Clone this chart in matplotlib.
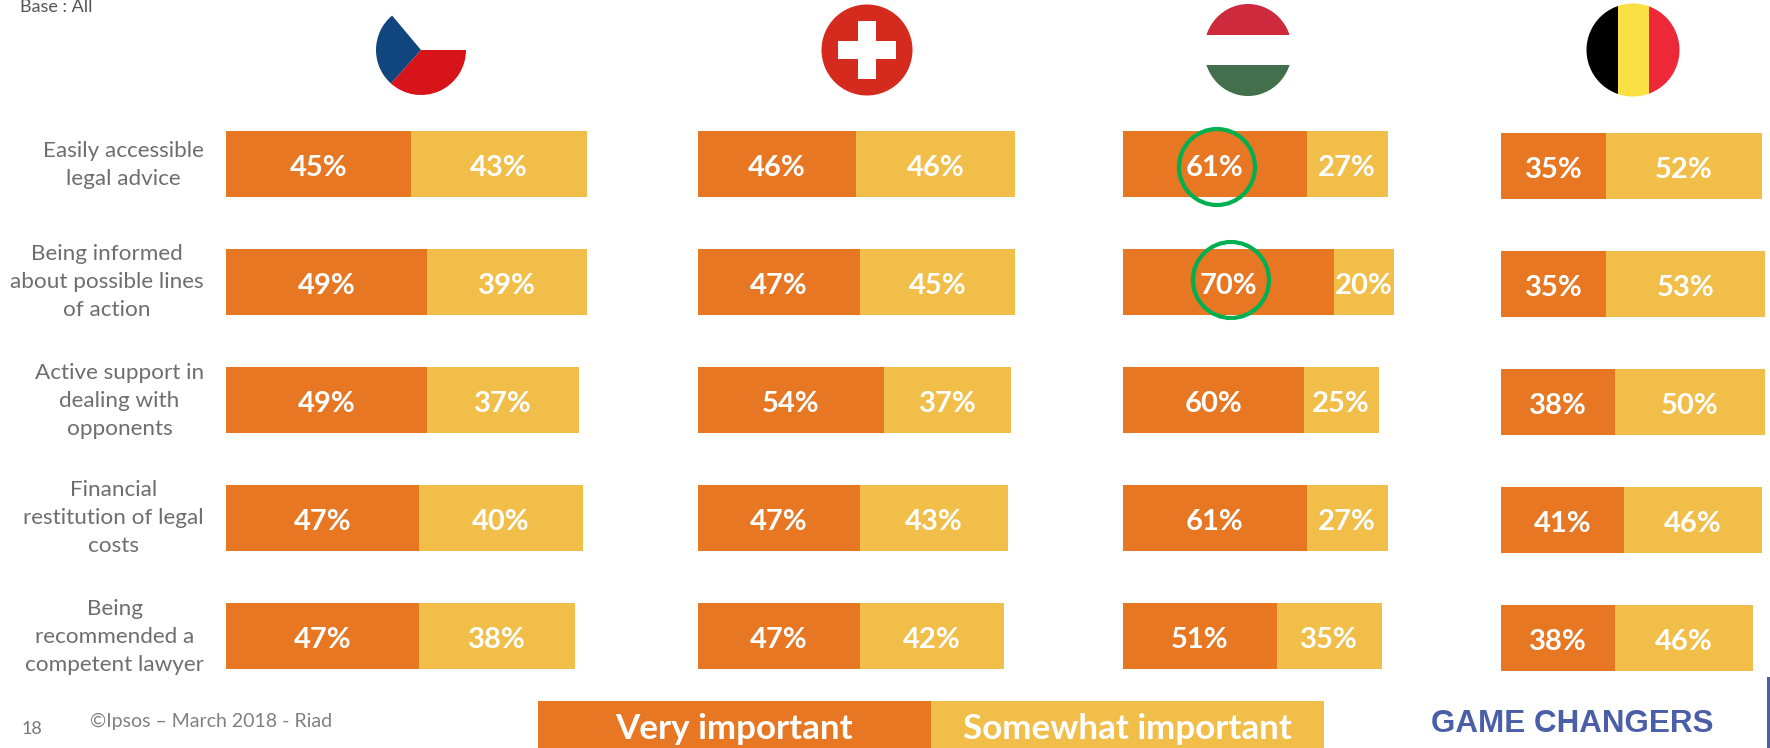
import matplotlib
matplotlib.use("Agg")
import matplotlib.pyplot as plt
from matplotlib.patches import Rectangle, Ellipse, Wedge

categories = ["Easily accessible\nlegal advice",
              "Being informed\nabout possible lines\nof action",
              "Active support in\ndealing with\nopponents",
              "Financial\nrestitution of legal\ncosts",
              "Being\nrecommended a\ncompetent lawyer"]
very_cz = [45, 49, 49, 47, 47]
some_cz = [43, 39, 37, 40, 38]
very_ch = [46, 47, 54, 47, 47]
some_ch = [46, 45, 37, 43, 42]
very_hu = [61, 70, 60, 61, 51]
some_hu = [27, 20, 25, 27, 35]
very_be = [35, 35, 38, 41, 38]
some_be = [52, 53, 50, 46, 46]
series_names = ["Very important", "Somewhat important"]

ORANGE = "#E77722"
YELLOW = "#F1BE49"
GREY = "#6E6E6E"
W, H = 1770, 748
FONT = "Lato"

fig = plt.figure(figsize=(W / 100, H / 100), dpi=100, facecolor="white")

# overlay in pixel coordinates for flags, legend and slide furniture
ov = fig.add_axes([0, 0, 1, 1], zorder=5)
ov.set_xlim(0, W)
ov.set_ylim(H, 0)
ov.axis("off")
ov.patch.set_alpha(0)


def panel(left, px_per_pct, top, very, some):
    xmax = max(v + s for v, s in zip(very, some)) + 0.5
    row_step = 118
    width = xmax * px_per_pct
    height = row_step * 5
    ax = fig.add_axes([left / W, 1 - (top + height) / H, width / W, height / H])
    rows = list(range(len(very)))
    ax.barh(rows, very, height=0.555, color=ORANGE, linewidth=0)
    ax.barh(rows, some, left=very, height=0.555, color=YELLOW, linewidth=0)
    ax.set_xlim(0, xmax)
    ax.set_ylim(4.5, -0.5)
    ax.axis("off")
    for r, v, s in zip(rows, very, some):
        ax.text(v / 2, r + 0.03, f"{v}%", color="white", fontsize=21, fontweight="bold",
                family=FONT, ha="center", va="center")
        ax.text(v + s / 2, r + 0.03, f"{s}%", color="white", fontsize=21, fontweight="bold",
                family=FONT, ha="center", va="center")
    return ax


panel(226, 4.10, 105, very_cz, some_cz)
panel(698, 3.05 * 1.1288, 105, very_ch, some_ch)
panel(1123, 3.01, 105, very_hu, some_hu)
panel(1501, 3.00, 107, very_be, some_be)

# row labels
label_y = [165, 282, 401, 518, 637]
for y, c in zip(label_y, categories):
    ov.text(204, y, c, color=GREY, fontsize=16.2, family=FONT, ha="right", va="center",
            multialignment="center", linespacing=1.52)

# green highlight circles
for cx, cy in [(1217, 167), (1231, 280)]:
    ov.add_patch(Ellipse((cx, cy), 76, 76, fill=False, edgecolor="#00B050", linewidth=3))

# Czech flag (the y axis of this overlay points down, so angles run clockwise)
ov.add_patch(Wedge((421, 50), 45, 0, 132, facecolor="#D7141A", linewidth=0))
ov.add_patch(Wedge((421, 50), 45, 132, 230, facecolor="#11457E", linewidth=0))

# Swiss flag
ov.add_patch(Ellipse((867, 50), 91, 91, facecolor="#D52B1E", linewidth=0))
ov.add_patch(Rectangle((858, 21), 18, 58, facecolor="white", linewidth=0))
ov.add_patch(Rectangle((838, 41), 58, 18, facecolor="white", linewidth=0))

# Hungarian flag
hu_clip = Ellipse((1248, 50), 88, 92, transform=ov.transData)
for y0, y1, col in [(4, 35, "#CD2A3E"), (35, 65, "white"), (65, 97, "#436F4D")]:
    rect = Rectangle((1200, y0), 96, y1 - y0, facecolor=col, linewidth=0)
    ov.add_patch(rect)
    rect.set_clip_path(hu_clip)

# Belgian flag
be_clip = Ellipse((1633, 50), 93, 93, transform=ov.transData)
for x0, x1, col in [(1585, 1618, "black"), (1618, 1649, "#FAE042"), (1649, 1681, "#ED2939")]:
    rect = Rectangle((x0, 0), x1 - x0, 100, facecolor=col, linewidth=0)
    ov.add_patch(rect)
    rect.set_clip_path(be_clip)

# legend band
ov.add_patch(Rectangle((538, 701), 393, 47, facecolor=ORANGE, linewidth=0))
ov.add_patch(Rectangle((931, 701), 393, 47, facecolor=YELLOW, linewidth=0))
ov.text(734, 729, series_names[0], color="white", fontsize=25.2, fontweight="bold",
        family=FONT, ha="center", va="center")
ov.text(1127, 729, series_names[1], color="white", fontsize=25.2, fontweight="bold",
        family=FONT, ha="center", va="center")

# slide furniture
ov.text(20, 7, "Base : All", color="#555555", fontsize=13, family=FONT, ha="left", va="center")
ov.text(32, 729, "18", color="#777777", fontsize=13, family=FONT, ha="center", va="center")
ov.text(90, 721, "©Ipsos – March 2018 - Riad", color="#808080", fontsize=14, family=FONT,
        ha="left", va="center")
ov.text(1431, 724, "GAME CHANGERS", color="#4A5FA8", fontsize=22.6, fontweight="bold",
        family="Liberation Sans", ha="left", va="center")
ov.add_patch(Rectangle((1767, 677), 3, 71, facecolor="#4A5FA8", linewidth=0))

fig.savefig("out.png", dpi=100, facecolor="white")
